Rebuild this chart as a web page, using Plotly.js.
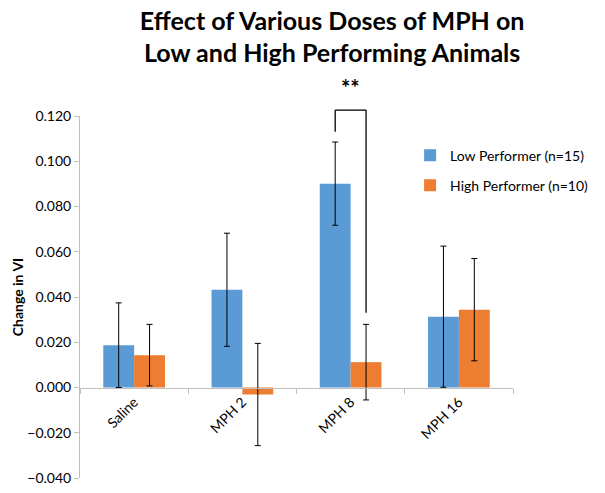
<!DOCTYPE html>
<html>
<head>
<meta charset="utf-8">
<script src="https://cdn.plot.ly/plotly-3.0.1.min.js"></script>
<style>
  html, body { margin: 0; padding: 0; background: #fff; }
  #plot { width: 605px; height: 493px; }
</style>
</head>
<body>
<div id="plot"></div>
<script>
// categories and group means with error (+/-)
var doses = ['Saline', 'MPH 2', 'MPH 8', 'MPH 16'];
var lowMean = [0.0187, 0.0432, 0.0901, 0.0313];
var lowErr = [0.0187, 0.0250, 0.0184, 0.0312];
var highMean = [0.0143, -0.0031, 0.0112, 0.0344];
var highErr = [0.0136, 0.0226, 0.0167, 0.0226];

// significance bracket (MPH 8): left/right bottom ends and top
var sigDose = 2;
var sigLeftBottom = 0.113;
var sigRightBottom = 0.033;
var sigTop = 0.1226;

var yMin = -0.04, yMax = 0.12;
var bargap = 0.43;

var low = {
  x: doses,
  y: lowMean,
  name: 'Low Performer (n=15)',
  type: 'bar',
  legendgroup: 'a',
  marker: {color: '#5B9BD5'},
  error_y: {type: 'data', array: lowErr, visible: true, color: '#000', thickness: 1, width: 3}
};
var high = {
  x: doses,
  y: highMean,
  name: 'High Performer (n=10)',
  type: 'bar',
  legendgroup: 'b',
  marker: {color: '#ED7D31'},
  error_y: {type: 'data', array: highErr, visible: true, color: '#000', thickness: 1, width: 3}
};

// helpers to put the bracket in paper units
var n = doses.length;
var half = (1 - bargap) / 4;
function px(i, off) { return (i + 0.5 + off) / n; }
function py(v) { return (v - yMin) / (yMax - yMin); }

var xl = px(sigDose, -half), xr = px(sigDose, half);
var line = {color: '#000', width: 1.3};

var layout = {
  width: 605,
  height: 493,
  margin: {l: 80, r: 85, t: 116, b: 15},
  paper_bgcolor: '#fff',
  plot_bgcolor: '#fff',
  font: {family: 'Lato, "Open Sans", sans-serif', color: '#000', size: 14},
  title: {
    text: '<b>Effect of Various Doses of MPH on<br>Low and High Performing Animals</b>',
    font: {size: 25, color: '#000'},
    x: 0.549, xanchor: 'center', y: 0.94, yanchor: 'middle'
  },
  barmode: 'group',
  bargap: bargap,
  bargroupgap: 0,
  showlegend: true,
  legend: {x: 1.185, y: 0.935, xanchor: 'right', yanchor: 'top', tracegroupgap: 9, font: {size: 14}},
  xaxis: {
    type: 'category',
    anchor: 'free',
    position: py(0),
    showline: true,
    linecolor: '#BFBFBF',
    linewidth: 1,
    ticks: 'outside',
    tickson: 'boundaries',
    ticklen: 5,
    tickcolor: '#BFBFBF',
    tickangle: -45,
    showgrid: false,
    zeroline: false,
    tickfont: {size: 14}
  },
  yaxis: {
    range: [yMin, yMax],
    dtick: 0.02,
    tickformat: '.3f',
    showline: true,
    linecolor: '#BFBFBF',
    ticks: 'outside',
    ticklen: 5,
    tickcolor: '#BFBFBF',
    showgrid: false,
    zeroline: false,
    tickfont: {size: 14},
    title: {text: '<b>Change in VI</b>', font: {size: 14}, standoff: 0}
  },
  shapes: [
    {type: 'line', xref: 'paper', yref: 'paper', x0: xl, x1: xl, y0: py(sigLeftBottom), y1: py(sigTop), line: line},
    {type: 'line', xref: 'paper', yref: 'paper', x0: xl, x1: xr, y0: py(sigTop), y1: py(sigTop), line: line},
    {type: 'line', xref: 'paper', yref: 'paper', x0: xr, x1: xr, y0: py(sigRightBottom), y1: py(sigTop), line: line}
  ],
  annotations: [
    {text: '<b>**</b>', xref: 'paper', yref: 'paper', x: (xl + xr) / 2, y: py(sigTop) + 0.02,
     xanchor: 'center', yanchor: 'bottom', showarrow: false, font: {size: 22}}
  ]
};

Plotly.newPlot('plot', [low, high], layout, {displayModeBar: false});
</script>
</body>
</html>
